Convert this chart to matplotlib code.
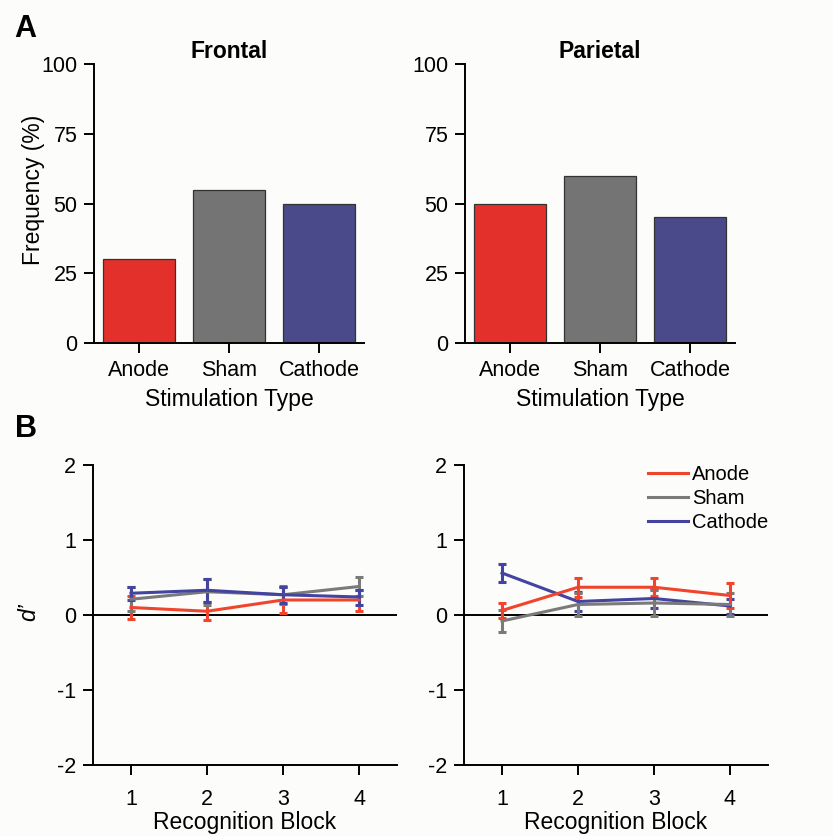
import numpy as np
import matplotlib
matplotlib.use('Agg')
import matplotlib.pyplot as plt

plt.rcParams['font.family'] = ['Liberation Sans', 'DejaVu Sans']
plt.rcParams['axes.unicode_minus'] = False

# Panel A: frequency per stimulation type
categories = ['Anode', 'Sham', 'Cathode']
frontal_freq = [30, 55, 50]
parietal_freq = [50, 60, 45]

# Panel B: d' per recognition block (mean, s.e.)
blocks = [1, 2, 3, 4]
frontal_anode = [0.10, 0.05, 0.20, 0.20]
frontal_anode_err = [0.15, 0.12, 0.17, 0.14]
frontal_sham = [0.21, 0.31, 0.27, 0.38]
frontal_sham_err = [0.16, 0.17, 0.12, 0.13]
frontal_cathode = [0.29, 0.33, 0.27, 0.24]
frontal_cathode_err = [0.09, 0.15, 0.11, 0.10]

parietal_anode = [0.06, 0.37, 0.37, 0.26]
parietal_anode_err = [0.10, 0.13, 0.12, 0.17]
parietal_sham = [-0.08, 0.14, 0.16, 0.14]
parietal_sham_err = [0.15, 0.15, 0.17, 0.15]
parietal_cathode = [0.56, 0.18, 0.22, 0.12]
parietal_cathode_err = [0.12, 0.13, 0.13, 0.10]

bar_colors = ['#e3302a', '#747474', '#4a4a8a']
line_colors = {'Anode': '#f0452c', 'Sham': '#7a7a7a', 'Cathode': '#4343a0'}
bg = '#fcfcfa'

W, H = 833, 836
fig = plt.figure(figsize=(W / 100, H / 100), dpi=100, facecolor=bg)


def px_axes(x0, y0, x1, y1):
    # pixel box (top-left origin) -> figure axes
    return fig.add_axes([x0 / W, 1 - y1 / H, (x1 - x0) / W, (y1 - y0) / H], facecolor=bg)


def style(ax, xpad=5):
    for s in ['top', 'right']:
        ax.spines[s].set_visible(False)
    for s in ['left', 'bottom']:
        ax.spines[s].set_linewidth(1.4)
    ax.tick_params(direction='out', length=7, width=1.4, labelsize=15.5, pad=5)
    ax.tick_params(axis='x', pad=xpad)


# ---- A: bar charts
ax1 = px_axes(94, 64, 364, 343)
ax2 = px_axes(465, 64, 735, 343)
for ax, vals, title in [(ax1, frontal_freq, 'Frontal'), (ax2, parietal_freq, 'Parietal')]:
    x = np.arange(1, len(categories) + 1)
    ax.bar(x, vals, width=0.8, color=bar_colors, edgecolor='#333333', linewidth=0.9)
    ax.set_xlim(0.5, 3.5)
    ax.set_ylim(0, 100)
    ax.set_yticks([0, 25, 50, 75, 100])
    ax.set_xticks(x)
    ax.set_xticklabels(categories)
    ax.set_title(title, fontsize=16.5, fontweight='bold', pad=4)
    ax.set_xlabel('Stimulation Type', fontsize=16.5)
    ax.xaxis.set_label_coords(0.5, -0.163)
    style(ax, xpad=5)
ax1.set_ylabel('Frequency (%)', fontsize=16.5)
ax1.yaxis.set_label_coords(-0.18, 0.55)

# ---- B: line charts with error bars
ax3 = px_axes(93, 465, 397, 765)
ax4 = px_axes(464, 465, 768, 765)
panels = [
    (ax3, [('Anode', frontal_anode, frontal_anode_err),
           ('Sham', frontal_sham, frontal_sham_err),
           ('Cathode', frontal_cathode, frontal_cathode_err)]),
    (ax4, [('Cathode', parietal_cathode, parietal_cathode_err),
           ('Sham', parietal_sham, parietal_sham_err),
           ('Anode', parietal_anode, parietal_anode_err)]),
]
for ax, series in panels:
    ax.axhline(0, color='black', lw=1.4, zorder=1)
    for name, m, e in series:
        ax.errorbar(blocks, m, yerr=e, color=line_colors[name], lw=2.2,
                    elinewidth=2.2, capsize=3, capthick=2.2, label=name, zorder=3)
    ax.set_xlim(0.5, 4.5)
    ax.set_ylim(-2, 2)
    ax.set_xticks(blocks)
    ax.set_yticks([-2, -1, 0, 1, 2])
    ax.set_xlabel('Recognition Block', fontsize=16.5)
    ax.xaxis.set_label_coords(0.5, -0.153)
    style(ax, xpad=10)

ax3.set_ylabel('d\u2019', fontsize=16.5, style='italic', rotation=90)
ax3.yaxis.set_label_coords(-0.173, 0.51)

handles, labels = ax4.get_legend_handles_labels()
order = [labels.index(n) for n in ['Anode', 'Sham', 'Cathode']]
ax4.legend([handles[i][0] for i in order], [labels[i] for i in order],
           loc='upper left', bbox_to_anchor=(0.605, 1.0), frameon=False,
           fontsize=14.5, handlelength=2.0, handletextpad=0.2,
           labelspacing=0.26, borderpad=0, borderaxespad=0)

fig.text(14 / W, 1 - 37 / H, 'A', fontsize=22, fontweight='bold', va='baseline')
fig.text(15 / W, 1 - 437 / H, 'B', fontsize=22, fontweight='bold', va='baseline')

fig.savefig('out.png', dpi=100, facecolor=bg)
